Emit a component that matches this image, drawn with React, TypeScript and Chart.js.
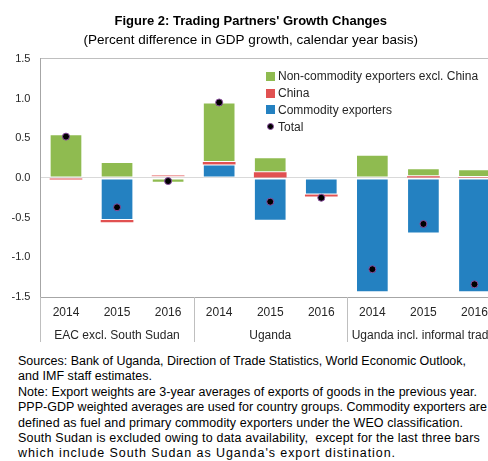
import React, { useEffect, useRef } from "react";
import { Chart, registerables } from "chart.js";

Chart.register(...registerables);

const years = ["2014", "2015", "2016", "2014", "2015", "2016", "2014", "2015", "2016"];
const groups = ["EAC excl. South Sudan", "Uganda", "Uganda incl. informal trade"];
const nonCommodity = [0.55, 0.2, -0.06, 0.75, 0.19, -0.02, 0.29, 0.1, 0.1];
const china = [-0.02, -0.03, 0.01, 0.03, 0.07, -0.025, 0.0, 0.02, 0.01];
const commodity = [0.0, -0.53, 0.02, 0.17, -0.54, -0.21, -1.44, -0.7, -1.44];
const total = [0.52, -0.37, -0.04, 0.95, -0.3, -0.25, -1.15, -0.58, -1.34];
const seriesNames = ["Non-commodity exporters excl. China", "China", "Commodity exporters", "Total"];
const titleText = "Figure 2: Trading Partners' Growth Changes";
const subtitleText = "(Percent difference in GDP growth, calendar year basis)";
const footLines = [
  "Sources: Bank of Uganda, Direction of Trade Statistics, World Economic Outlook,",
  "and IMF staff estimates.",
  "Note: Export weights are 3-year averages of exports of goods in the previous year.",
  "PPP-GDP weighted averages are used for country groups. Commodity exporters are",
  "defined as fuel and primary commodity exporters under the WEO classification.",
  "South Sudan is excluded owing to data availability,  except for the last three bars",
  "which include South Sudan as Uganda's export distination.",
];
// approximate right edges of each footnote line in the reference (layout only)
const footLineRight = [466, 152, 477, 487, 463, 480, 396];

const GREEN = "#8FBB50";
const RED = "#E15151";
const BLUE = "#2481C1";
const FONT = "'Liberation Sans', Arial, sans-serif";
const FOOT_LEFT = 18;

const groupSeparators = {
  id: "groupSeparators",
  afterDraw(chart: any) {
    const xs = chart.scales.x;
    const area = chart.chartArea;
    const per = years.length / groups.length;
    const ctx = chart.ctx;
    ctx.save();
    ctx.strokeStyle = "#BFBFBF";
    ctx.lineWidth = 1;
    for (let g = 0; g <= groups.length; g++) {
      const x = Math.round(xs.getPixelForValue(g * per - 0.5)) + 0.5;
      ctx.beginPath();
      ctx.moveTo(x, area.bottom);
      ctx.lineTo(x, area.bottom + 45);
      ctx.stroke();
    }
    ctx.restore();
  },
};

export default function App() {
  const ref = useRef<HTMLCanvasElement | null>(null);
  const footRefs = useRef<(HTMLSpanElement | null)[]>([]);

  useEffect(() => {
    footRefs.current.forEach((el, i) => {
      if (!el) return;
      el.style.letterSpacing = "0px";
      const w = el.getBoundingClientRect().width;
      const target = footLineRight[i] - FOOT_LEFT;
      const n = footLines[i].length;
      if (w > 0 && n > 0) el.style.letterSpacing = `${(target - w) / n}px`;
    });
  }, []);

  useEffect(() => {
    if (!ref.current) return;
    const labels = years.map((y, i) => (i % 3 === 1 ? [y, groups[(i - 1) / 3]] : [y, ""]));
    const chart = new Chart(ref.current, {
      type: "bar",
      data: {
        labels,
        datasets: [
          {
            type: "line",
            label: seriesNames[3],
            data: total,
            stack: "total",
            showLine: false,
            pointRadius: 3.5,
            pointBackgroundColor: "#000000",
            pointBorderColor: "#8B4F9F",
            pointBorderWidth: 1,
            order: 0,
          } as any,
          {
            label: seriesNames[2],
            data: commodity,
            backgroundColor: BLUE,
            borderColor: "rgba(255,255,255,0.55)",
            borderWidth: 1,
            borderSkipped: false,
            stack: "bars",
            order: 1,
          },
          {
            label: seriesNames[1],
            data: china,
            backgroundColor: RED,
            borderColor: "rgba(255,255,255,0.4)",
            borderWidth: 0,
            borderSkipped: false,
            stack: "bars",
            order: 1,
          },
          {
            label: seriesNames[0],
            data: nonCommodity,
            backgroundColor: GREEN,
            borderColor: "rgba(255,255,255,0.55)",
            borderWidth: 1,
            borderSkipped: false,
            stack: "bars",
            order: 1,
          },
        ],
      },
      options: {
        animation: false,
        responsive: false,
        devicePixelRatio: 1,
        layout: { padding: { left: 1.5, right: 10, top: 0, bottom: 0 } },
        datasets: { bar: { categoryPercentage: 1, barPercentage: 0.64 } },
        plugins: {
          legend: { display: false },
          tooltip: { enabled: false },
          title: {
            display: true,
            text: titleText,
            color: "#000",
            font: { family: FONT, size: 13, weight: "bold" },
            padding: { top: 14, bottom: 3 },
          },
          subtitle: {
            display: true,
            text: subtitleText,
            color: "#000",
            font: { family: FONT, size: 13.5 },
            padding: { top: 0, bottom: 10 },
          },
        },
        scales: {
          x: {
            stacked: true,
            offset: true,
            border: { color: "#A6A6A6", width: 1 },
            grid: {
              offset: true,
              drawOnChartArea: false,
              drawTicks: false,
            },
            ticks: {
              autoSkip: false,
              maxRotation: 0,
              padding: 4.5,
              color: "#262626",
              font: { family: FONT, size: 12, lineHeight: 23 / 12 },
            },
          },
          y: {
            stacked: true,
            min: -1.5,
            max: 1.5,
            border: { color: "#A6A6A6", width: 1 },
            grid: {
              drawTicks: false,
              color: (ctx: any) =>
                ctx.tick && ctx.tick.value === 1.5
                  ? "#BFBFBF"
                  : ctx.tick && ctx.tick.value === 0
                  ? "#D9D9D9"
                  : "rgba(0,0,0,0)",
            },
            ticks: {
              stepSize: 0.5,
              padding: 10,
              color: "#262626",
              font: { family: FONT, size: 11 },
              callback: (v: any) => Number(v).toFixed(1),
            },
          },
        },
      },
      plugins: [groupSeparators],
    });
    return () => chart.destroy();
  }, []);

  const legendItems = [
    { name: seriesNames[0], color: GREEN, dot: false },
    { name: seriesNames[1], color: RED, dot: false },
    { name: seriesNames[2], color: BLUE, dot: false },
    { name: seriesNames[3], color: "#000", dot: true },
  ];

  return (
    <div
      style={{
        position: "absolute",
        left: 0,
        top: 0,
        width: 488,
        height: 461,
        overflow: "hidden",
        background: "#fff",
      }}
    >
      <canvas
        ref={ref}
        width={510}
        height={352}
        style={{ position: "absolute", left: 0, top: 0, width: 510, height: 352 }}
      />
      <div style={{ position: "absolute", left: 266, top: 68, fontFamily: FONT, fontSize: 12, color: "#262626" }}>
        {legendItems.map((it, i) => (
          <div key={i} style={{ height: 16.8, display: "flex", alignItems: "center", whiteSpace: "nowrap" }}>
            {it.dot ? (
              <span
                style={{
                  display: "inline-block",
                  width: 7,
                  height: 7,
                  borderRadius: "50%",
                  background: "#000",
                  border: "1px solid #8B4F9F",
                  boxSizing: "border-box",
                  marginLeft: 1,
                  marginRight: 4,
                }}
              />
            ) : (
              <span style={{ display: "inline-block", width: 9, height: 9, background: it.color, marginRight: 3 }} />
            )}
            <span>{it.name}</span>
          </div>
        ))}
      </div>
      <div
        style={{
          position: "absolute",
          left: FOOT_LEFT,
          top: 354,
          fontFamily: FONT,
          fontSize: 12.5,
          lineHeight: "15.4px",
          color: "#000",
          whiteSpace: "pre",
        }}
      >
        {footLines.map((l, i) => (
          <div key={i}>
            <span
              ref={(el) => {
                footRefs.current[i] = el;
              }}
              style={{ display: "inline-block" }}
            >
              {l}
            </span>
          </div>
        ))}
      </div>
    </div>
  );
}
